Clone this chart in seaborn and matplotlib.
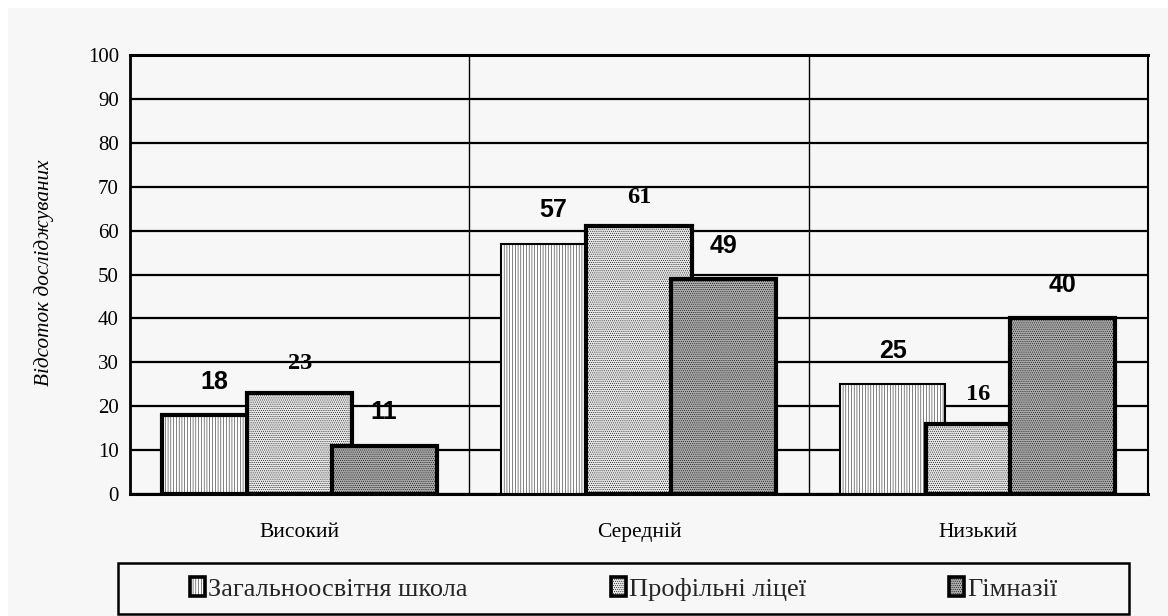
import matplotlib
matplotlib.use("Agg")
import matplotlib.pyplot as plt
from matplotlib.patches import Rectangle, Patch
import seaborn as sns
import pandas as pd

# --- data -------------------------------------------------------------
categories = ["Високий", "Середній", "Низький"]
series_names = ["Загальноосвітня школа", "Профільні ліцеї", "Гімназії"]
school = [18, 57, 25]
lyceum = [23, 61, 16]
gymnasium = [11, 49, 40]
y_ticks = list(range(0, 101, 10))
y_title = "Відсоток досліджуваних"

values = [school, lyceum, gymnasium]

# --- style ------------------------------------------------------------
sns.set_theme(style="white")
plt.rcParams["font.family"] = ["Liberation Serif", "DejaVu Serif"]
plt.rcParams["hatch.linewidth"] = 0.35

BG = "#f7f7f7"
offsets = [-0.252, 0.0, 0.249]          # bar centres relative to the category
bar_width = 0.31
faces = ["#ffffff", "#e6e6e6", "#aaaaaa"]
hatches = ["||||||", "........", "........"]
edge_widths = [[3.0, 1.5, 1.5], [3.0, 3.0, 3.0], [3.0, 3.0, 3.0]]
label_fonts = [
    dict(family="Liberation Sans", size=18, weight="bold"),
    dict(family="Liberation Serif", size=17.5, weight="bold"),
    dict(family="Liberation Sans", size=18, weight="bold"),
]
label_offsets = [24, 21, 24]

fig = plt.figure(figsize=(11.68, 6.16), dpi=100, facecolor="white")
fig.add_artist(Rectangle((8 / 1168, 0), 1, 1 - 8 / 616, transform=fig.transFigure,
                         facecolor=BG, edgecolor="none", zorder=-10))
ax = fig.add_axes([130 / 1168, 1 - 494 / 616, (1148 - 130) / 1168, (494 - 55) / 616])
ax.set_facecolor(BG)
ax.set_axisbelow(True)

# --- bars -------------------------------------------------------------
for i, (name, vals) in enumerate(zip(series_names, values)):
    df = pd.DataFrame({
        "pos": [k + offsets[i] for k in range(len(categories))],
        "value": vals,
    })
    n_before = len(ax.patches)
    sns.barplot(data=df, x="pos", y="value", native_scale=True, width=bar_width,
                color=faces[i], saturation=1, edgecolor="black", linewidth=1.5,
                hatch=hatches[i], errorbar=None, ax=ax, zorder=2 + i)
    for p, lw in zip(ax.patches[n_before:], edge_widths[i]):
        p.set_linewidth(lw)
        p.set_joinstyle("miter")
    for k, v in enumerate(vals):
        ax.annotate(str(v), (k + offsets[i], v), xytext=(0, label_offsets[i]),
                    textcoords="offset points", ha="center", va="center",
                    color="black", zorder=10, **label_fonts[i])

# --- axes -------------------------------------------------------------
ax.set_xlim(-0.5, len(categories) - 0.5)
ax.set_ylim(0, 100)
ax.set_yticks(y_ticks)
ax.set_yticklabels([str(t) for t in y_ticks], fontsize=15)
ax.set_xticks([k - 0.5 for k in range(len(categories) + 1)])
ax.set_xticklabels([])
ax.set_xticks(range(len(categories)), minor=True)
ax.set_xticklabels(categories, minor=True, fontsize=15.5, va="baseline")
ax.tick_params(axis="x", which="major", direction="out", length=6, width=1.5,
               color="black")
ax.tick_params(axis="x", which="minor", length=0, pad=31, colors="black")
ax.tick_params(axis="y", direction="inout", length=10, width=1.5, pad=3,
               colors="black")
ax.set_xlabel("")
ax.set_ylabel(y_title, fontsize=15.3, style="italic", color="black")
ax.yaxis.set_label_coords(-0.0745, 0.505)

ax.yaxis.grid(True, color="black", linewidth=1.6)
ax.xaxis.grid(False)
for k in range(1, len(categories)):
    ax.axvline(k - 0.5, color="black", linewidth=1.0, zorder=1)

for side, lw in [("left", 2.0), ("bottom", 2.2), ("top", 2.2), ("right", 1.5)]:
    ax.spines[side].set_visible(True)
    ax.spines[side].set_color("black")
    ax.spines[side].set_linewidth(lw)

# --- legend -----------------------------------------------------------
fig.add_artist(Rectangle((118 / 1168, 2 / 616), (1129 - 118) / 1168, (614 - 563) / 616,
                         transform=fig.transFigure, facecolor="none",
                         edgecolor="black", linewidth=1.8, zorder=5))
legend_x = [190, 611, 949]
for i, name in enumerate(series_names):
    handle = Patch(facecolor=faces[i], edgecolor="black", linewidth=2.6,
                   hatch=hatches[i], label=name)
    fig.legend(handles=[handle], loc="center left",
               bbox_to_anchor=(legend_x[i] / 1168, 1 - 589 / 616),
               frameon=False, fontsize=19, handlelength=0.55, handleheight=0.72,
               handletextpad=0.15, borderpad=0, borderaxespad=0)

fig.savefig("out.png", dpi=100, facecolor=fig.get_facecolor())
